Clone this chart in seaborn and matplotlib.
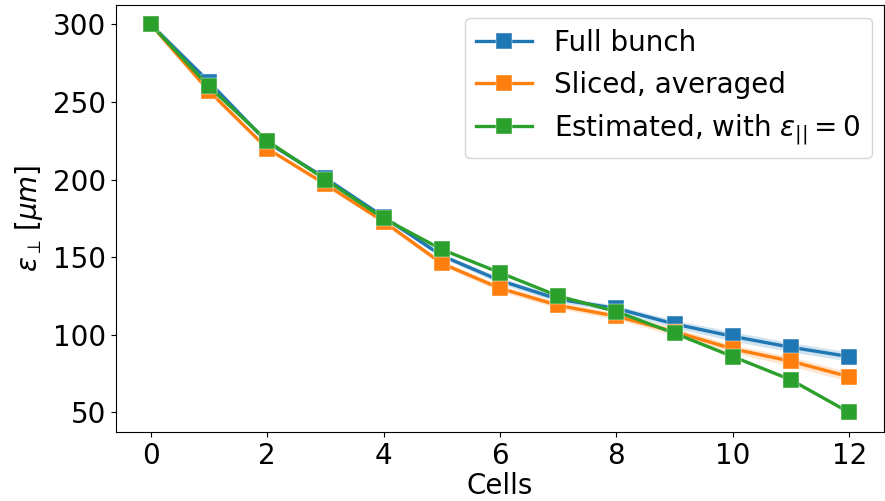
import matplotlib
matplotlib.use("Agg")
import matplotlib.pyplot as plt
import seaborn as sns
import pandas as pd
import numpy as np

cells = list(range(13))
full_bunch = [300, 263, 224, 201, 176, 151, 135, 123, 117, 107, 99, 92, 86]
sliced_avg = [300, 257, 220, 197, 173, 146, 130, 119, 112, 102, 91, 83, 73]
estimated = [300, 260, 225, 200, 175, 155, 140, 125, 115, 101, 86, 71, 50]
full_band = [0, 1, 1, 1, 1.5, 1.5, 2, 2, 2, 2.5, 3, 3, 3]
sliced_band = [0, 1, 1, 1, 1.5, 1.5, 2, 2, 2, 2.5, 2.5, 3, 3]
labels = ["Full bunch", "Sliced, averaged", r"Estimated, with $\varepsilon_{||} = 0$"]

df = pd.concat([
    pd.DataFrame({"Cells": cells, "val": full_bunch, "series": labels[0]}),
    pd.DataFrame({"Cells": cells, "val": sliced_avg, "series": labels[1]}),
    pd.DataFrame({"Cells": cells, "val": estimated, "series": labels[2]}),
])

plt.rcParams['font.family'] = ['DejaVu Sans']
fig, ax = plt.subplots(figsize=(8.85, 5.01), dpi=100)
palette = ["#1f77b4", "#ff7f0e", "#2ca02c"]

for vals, band, c in [(full_bunch, full_band, palette[0]), (sliced_avg, sliced_band, palette[1])]:
    v = np.array(vals, float); b = np.array(band, float)
    ax.fill_between(cells, v - b, v + b, color=c, alpha=0.2, lw=0)

sns.lineplot(data=df, x="Cells", y="val", hue="series", palette=palette,
             marker="s", markersize=12, linewidth=2.4, markeredgewidth=0.3,
             ax=ax, errorbar=None)

ax.set_xlabel("Cells", fontsize=20, labelpad=2)
ax.set_ylabel(r"$\varepsilon_\perp\,[\mu m]$", fontsize=20, labelpad=6)
ax.set_xticks([0, 2, 4, 6, 8, 10, 12])
ax.set_yticks([50, 100, 150, 200, 250, 300])
ax.tick_params(labelsize=20)
ax.legend(title=None, fontsize=20, loc="upper right", borderaxespad=0.45)
fig.subplots_adjust(left=0.131, right=0.999, top=0.99, bottom=0.138)
fig.savefig("out.png", dpi=100)
